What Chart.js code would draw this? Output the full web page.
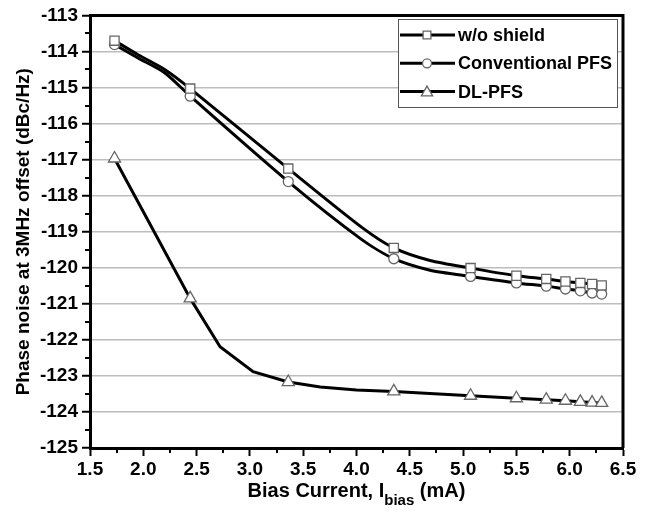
<!DOCTYPE html>
<html>
<head>
<meta charset="utf-8">
<script src="https://cdn.jsdelivr.net/npm/chart.js@4/dist/chart.umd.min.js"></script>
<style>
html,body{margin:0;padding:0;background:#fff;}
canvas{display:block;}
</style>
</head>
<body>
<canvas id="c" width="651" height="512"></canvas>
<script>
// Marker positions (bias current, mA)
const biasCurrent = [1.73, 2.44, 3.36, 4.35, 5.07, 5.50, 5.78, 5.96, 6.10, 6.21, 6.30];
const woShield = [-113.70, -115.03, -117.25, -119.45, -120.01, -120.22, -120.31, -120.38, -120.42, -120.45, -120.49];
const conventionalPFS = [-113.81, -115.24, -117.61, -119.75, -120.24, -120.42, -120.51, -120.59, -120.64, -120.70, -120.73];
const dlPFS = [-116.97, -120.85, -123.17, -123.43, -123.55, -123.62, -123.66, -123.69, -123.72, -123.74, -123.75];

// Curve paths (vertices)
const woShieldCurveX = [1.73, 1.95, 2.20, 2.44, 3.36, 4.05, 4.35, 4.69, 5.07, 5.50, 5.78, 5.96, 6.10, 6.21, 6.30];
const woShieldCurveY = [-113.70, -114.09, -114.50, -115.03, -117.25, -118.88, -119.45, -119.80, -120.01, -120.22, -120.31, -120.38, -120.42, -120.45, -120.49];
const convCurveX = [1.73, 1.95, 2.20, 2.44, 3.36, 4.05, 4.35, 4.69, 5.07, 5.50, 5.78, 5.96, 6.10, 6.21, 6.30];
const convCurveY = [-113.81, -114.18, -114.59, -115.24, -117.61, -119.22, -119.75, -120.07, -120.24, -120.42, -120.51, -120.59, -120.64, -120.70, -120.73];
const dlCurveX = [1.73, 2.44, 2.72, 3.03, 3.36, 3.66, 4.00, 4.35, 5.07, 5.50, 5.78, 5.96, 6.10, 6.21, 6.30];
const dlCurveY = [-116.97, -120.85, -122.19, -122.88, -123.17, -123.31, -123.39, -123.43, -123.55, -123.62, -123.66, -123.69, -123.72, -123.74, -123.75];

const seriesNames = ['w/o shield', 'Conventional PFS', 'DL-PFS'];
const markerStyles = ['rect', 'circle', 'triangle'];
const markerRadii = [6.5, 5, 7];

const xTickValues = [1.5, 2.0, 2.5, 3.0, 3.5, 4.0, 4.5, 5.0, 5.5, 6.0, 6.5];
const yTickValues = [-113, -114, -115, -116, -117, -118, -119, -120, -121, -122, -123, -124, -125];

const FONT = "'Liberation Sans', Arial, sans-serif";
const pts = (xs, ys) => xs.map((x, i) => ({x: x, y: ys[i]}));

const lineSets = [
  [woShieldCurveX, woShieldCurveY, 0.25],
  [convCurveX, convCurveY, 0.25],
  [dlCurveX, dlCurveY, 0]
].map((s, i) => ({
  label: seriesNames[i] + ' curve',
  data: pts(s[0], s[1]),
  showLine: true,
  borderColor: '#000',
  borderWidth: 3,
  pointRadius: 0,
  tension: s[2],
  order: 2
}));

const markerSets = [woShield, conventionalPFS, dlPFS].map((ys, i) => ({
  label: seriesNames[i],
  data: pts(biasCurrent, ys),
  showLine: false,
  pointStyle: markerStyles[i],
  pointRadius: markerRadii[i],
  pointBackgroundColor: '#fff',
  pointBorderColor: '#666',
  pointBorderWidth: 1.3,
  order: 1
}));

const framePlugin = {
  id: 'frame',
  afterDraw(chart) {
    const ctx = chart.ctx;
    const a = chart.chartArea;
    const xs = chart.scales.x, ys = chart.scales.y;
    ctx.save();
    ctx.strokeStyle = '#000';
    // minor ticks
    ctx.lineWidth = 2;
    for (let v = 1.75; v < 6.5; v += 0.5) {
      const px = Math.round(xs.getPixelForValue(v));
      ctx.beginPath(); ctx.moveTo(px, a.bottom); ctx.lineTo(px, a.bottom + 5); ctx.stroke();
    }
    for (let v = -124.5; v < -113; v += 1) {
      const py = Math.round(ys.getPixelForValue(v));
      ctx.beginPath(); ctx.moveTo(a.left, py); ctx.lineTo(a.left - 5, py); ctx.stroke();
    }
    // top and right frame
    ctx.lineWidth = 3;
    ctx.beginPath();
    ctx.moveTo(a.left, a.top); ctx.lineTo(a.right, a.top); ctx.lineTo(a.right, a.bottom);
    ctx.stroke();

    // legend
    const bx = 398, by = 19, bw = 219, bh = 88;
    ctx.fillStyle = '#fff';
    ctx.fillRect(bx, by, bw, bh);
    ctx.lineWidth = 1;
    ctx.strokeStyle = '#555';
    ctx.strokeRect(bx + 0.5, by + 0.5, bw, bh);
    ctx.font = 'bold 18px ' + FONT;
    ctx.textBaseline = 'middle';
    ctx.textAlign = 'left';
    for (let i = 0; i < 3; i++) {
      const ry = 35 + i * 28.3;
      ctx.strokeStyle = '#000';
      ctx.lineWidth = 3;
      ctx.beginPath(); ctx.moveTo(400, ry); ctx.lineTo(455, ry); ctx.stroke();
      ctx.fillStyle = '#fff';
      ctx.strokeStyle = '#666';
      ctx.lineWidth = 1.3;
      const r = i === 1 ? 4.5 : (i === 0 ? 5.5 : 6.5);
      Chart.helpers.drawPoint(ctx, {pointStyle: markerStyles[i], radius: r, borderWidth: 1.3}, 427, ry + (i === 2 ? 1 : 0));
      ctx.fillStyle = '#000';
      ctx.fillText(seriesNames[i], 458, ry + 1);
    }

    // x axis title with subscript
    const cx = (a.left + a.right) / 2;
    const t1 = 'Bias Current, I', t2 = 'bias', t3 = ' (mA)';
    const fMain = 'bold 20px ' + FONT, fSub = 'bold 15px ' + FONT;
    ctx.font = fMain; const w1 = ctx.measureText(t1).width; const w3 = ctx.measureText(t3).width;
    ctx.font = fSub; const w2 = ctx.measureText(t2).width;
    let x0 = cx - (w1 + w2 + w3) / 2;
    const ty = 491;
    ctx.fillStyle = '#000';
    ctx.textBaseline = 'middle';
    ctx.font = fMain; ctx.fillText(t1, x0, ty); x0 += w1;
    ctx.font = fSub; ctx.fillText(t2, x0, ty + 10); x0 += w2;
    ctx.font = fMain; ctx.fillText(t3, x0, ty);
    ctx.restore();
  }
};

new Chart(document.getElementById('c'), {
  type: 'scatter',
  data: { datasets: [...markerSets, ...lineSets] },
  options: {
    responsive: false,
    animation: false,
    events: [],
    layout: { padding: { left: 0, top: 14, right: 28, bottom: 0 } },
    plugins: { legend: { display: false }, tooltip: { enabled: false } },
    scales: {
      x: {
        type: 'linear',
        min: 1.5, max: 6.5,
        afterBuildTicks: (s) => { s.ticks = xTickValues.map(v => ({value: v})); },
        afterFit: (s) => { s.height = 64; },
        ticks: {
          color: '#000',
          padding: 2,
          maxRotation: 0,
          font: { family: FONT, size: 19, weight: 'bold' },
          callback: (v) => Number(v).toFixed(1)
        },
        grid: { drawOnChartArea: false, drawTicks: true, tickLength: 8, tickColor: '#000', tickWidth: 2 },
        border: { color: '#000', width: 3 },
        title: { display: false }
      },
      y: {
        type: 'linear',
        min: -125, max: -113,
        afterBuildTicks: (s) => { s.ticks = yTickValues.slice().reverse().map(v => ({value: v})); },
        afterFit: (s) => { s.width = 90; },
        ticks: {
          color: '#000',
          padding: 4,
          font: { family: FONT, size: 19, weight: 'bold' },
          callback: (v) => String(v)
        },
        grid: { color: '#bdbdbd', lineWidth: 1.5, drawTicks: true, tickLength: 8, tickColor: '#000', tickWidth: 2 },
        border: { color: '#000', width: 3 },
        title: {
          display: true,
          text: 'Phase noise at 3MHz offset (dBc/Hz)',
          color: '#000',
          font: { family: FONT, size: 19, weight: 'bold' },
          padding: { top: 12, bottom: 0 }
        }
      }
    }
  },
  plugins: [framePlugin]
});
</script>
</body>
</html>
